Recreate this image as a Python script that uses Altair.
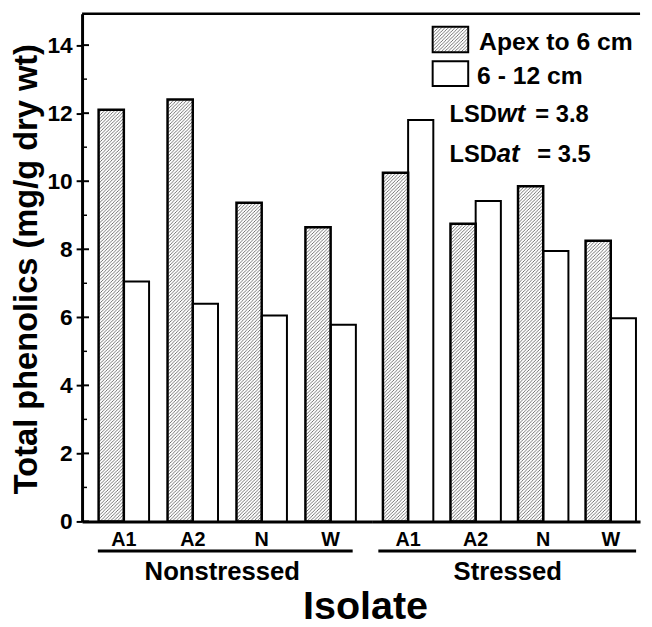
import urllib.parse
import altair as alt
import pandas as pd

# ---------------- data ----------------
isolates = ["A1", "A2", "N", "W"]
conditions = ["Nonstressed", "Stressed"]
sections = ["Apex to 6 cm", "6 - 12 cm"]
apex_nonstressed = [12.1, 12.4, 9.37, 8.65]
mid_nonstressed = [7.05, 6.4, 6.05, 5.78]
apex_stressed = [10.25, 8.75, 9.85, 8.25]
mid_stressed = [11.8, 9.42, 7.95, 5.97]
y_major = [0, 2, 4, 6, 8, 10, 12, 14]
y_minor = [1, 3, 5, 7, 9, 11, 13]
y_max = 14.92

rows = []
for cond, apex, mid in [(conditions[0], apex_nonstressed, mid_nonstressed),
                        (conditions[1], apex_stressed, mid_stressed)]:
    for iso, a, m in zip(isolates, apex, mid):
        rows.append({"condition": cond, "isolate": iso, "section": sections[0], "value": a})
        rows.append({"condition": cond, "isolate": iso, "section": sections[1], "value": m})
df = pd.DataFrame(rows)

FONT = "Liberation Sans"
W, H = 565, 514

HATCH_SVG = (
    "<svg xmlns='http://www.w3.org/2000/svg'>"
    "<defs><pattern id='p' patternUnits='userSpaceOnUse' width='3.4' height='3.4'>"
    "<path d='M-0.85,0.85 L0.85,-0.85 M0,3.4 L3.4,0 M2.55,4.25 L4.25,2.55' "
    "stroke='#444' stroke-width='0.75'/></pattern></defs>"
    "<rect width='100%' height='100%' fill='url(#p)'/></svg>"
)
HATCH = "data:image/svg+xml;charset=utf-8," + urllib.parse.quote(HATCH_SVG)

y_axis = alt.Axis(
    values=y_major, title="Total phenolics (mg/g dry wt)", titleFont=FONT,
    titleFontSize=33, titleFontWeight="bold", titleColor="black",
    titleX=-56, titleY=H / 2 + 1, titleAngle=270, titleBaseline="middle", titleAlign="center",
    labelFont=FONT, labelFontSize=23, labelFontWeight="bold", labelColor="black",
    labelPadding=4, tickSize=6, tickWidth=2, tickColor="black",
    domainColor="black", domainWidth=3, grid=False,
)
y_enc = alt.Y("value:Q", scale=alt.Scale(domain=[0, y_max], nice=False, zero=True), axis=y_axis)
off_scale = alt.Scale(domain=sections, paddingInner=0, paddingOuter=0)


def panel(cond, rng, pad_in, pad_out, align):
    sub = df[df["condition"] == cond]
    x_enc = alt.X(
        "isolate:N", sort=isolates,
        scale=alt.Scale(domain=isolates, range=rng, paddingInner=pad_in,
                        paddingOuter=pad_out, align=align),
        axis=alt.Axis(title=None, orient="bottom", ticks=False, domainColor="black",
                      domainWidth=3, labelFont=FONT, labelFontSize=20,
                      labelFontWeight="bold", labelColor="black", labelPadding=8,
                      labelAngle=0, grid=False),
    )
    base = alt.Chart(sub).encode(
        x=x_enc, xOffset=alt.XOffset("section:N", sort=sections, scale=off_scale), y=y_enc
    )
    white = base.transform_filter(alt.datum.section == sections[1]).mark_bar(
        fill="white", stroke="black", strokeWidth=2)
    hatch = base.transform_filter(alt.datum.section == sections[0]).mark_image(
        aspect=False).encode(y2=alt.datum(0), url=alt.value(HATCH))
    outline = base.transform_filter(alt.datum.section == sections[0]).mark_bar(
        fill="white", fillOpacity=0, stroke="black", strokeWidth=2.5)
    return alt.layer(white, hatch, outline)


left = panel(conditions[0], [0, 294], 0.268, 0.24, 0.5)
right = panel(conditions[1], [294, 565], 0.254, 0.108, 0.72)

one = pd.DataFrame({"d": [0]})

def txt(s, x, y, size=24, align="left", style="normal"):
    return alt.Chart(one).mark_text(
        text=s, font=FONT, fontSize=size, fontWeight="bold", fontStyle=style,
        color="black", align=align, baseline="alphabetic",
    ).encode(x=alt.value(x), y=alt.value(y))

ticks_major = alt.Chart(pd.DataFrame({"value": y_major})).mark_rule(
    color="black", strokeWidth=2).encode(x=alt.value(0), x2=alt.value(7), y=y_enc)
ticks_minor = alt.Chart(pd.DataFrame({"value": y_minor})).mark_rule(
    color="black", strokeWidth=1.5).encode(x=alt.value(0), x2=alt.value(5), y=y_enc)
top_line = alt.Chart(one).mark_rule(color="black", strokeWidth=2.5).encode(
    x=alt.value(0), x2=alt.value(W), y=alt.value(0))

# legend
sw_hatch = alt.Chart(one).mark_image(aspect=False).encode(
    x=alt.value(355), x2=alt.value(391), y=alt.value(13), y2=alt.value(39), url=alt.value(HATCH))
sw_hatch_out = alt.Chart(one).mark_rect(fill="white", fillOpacity=0, stroke="black", strokeWidth=2).encode(
    x=alt.value(355), x2=alt.value(391), y=alt.value(13), y2=alt.value(39))
sw_white = alt.Chart(one).mark_rect(fill="white", stroke="black", strokeWidth=2).encode(
    x=alt.value(355), x2=alt.value(391), y=alt.value(48), y2=alt.value(73))

under_ns = alt.Chart(one).mark_rule(color="black", strokeWidth=3).encode(
    x=alt.value(16), x2=alt.value(274), y=alt.value(544))
under_s = alt.Chart(one).mark_rule(color="black", strokeWidth=3).encode(
    x=alt.value(300), x2=alt.value(561), y=alt.value(544))

deco = alt.layer(
    ticks_major, ticks_minor, top_line, sw_hatch, sw_hatch_out, sw_white,
    txt(sections[0], 402, 37, size=25), txt(sections[1], 400, 71, size=25),
    txt("LSD", 372, 110), txt("wt", 420, 110, size=26, style="italic"), txt("= 3.8", 459, 110),
    txt("LSD", 372, 150), txt("at", 420, 150, size=26, style="italic"), txt("= 3.5", 461, 150),
    under_ns, under_s,
    txt(conditions[0], 142, 573, size=26, align="center"),
    txt(conditions[1], 431, 573, size=26, align="center"),
    txt("Isolate", 287, 613, size=40, align="center"),
)

chart = alt.layer(left, right, deco).resolve_scale(
    x="independent", xOffset="independent"
).properties(
    width=W, height=H,
    autosize=alt.AutoSizeParams(type="none"),
    padding={"left": 75, "top": 2, "right": 4, "bottom": 103},
).configure_view(strokeWidth=0)

chart.save("out.html", embed_options={"renderer": "svg", "actions": False})
